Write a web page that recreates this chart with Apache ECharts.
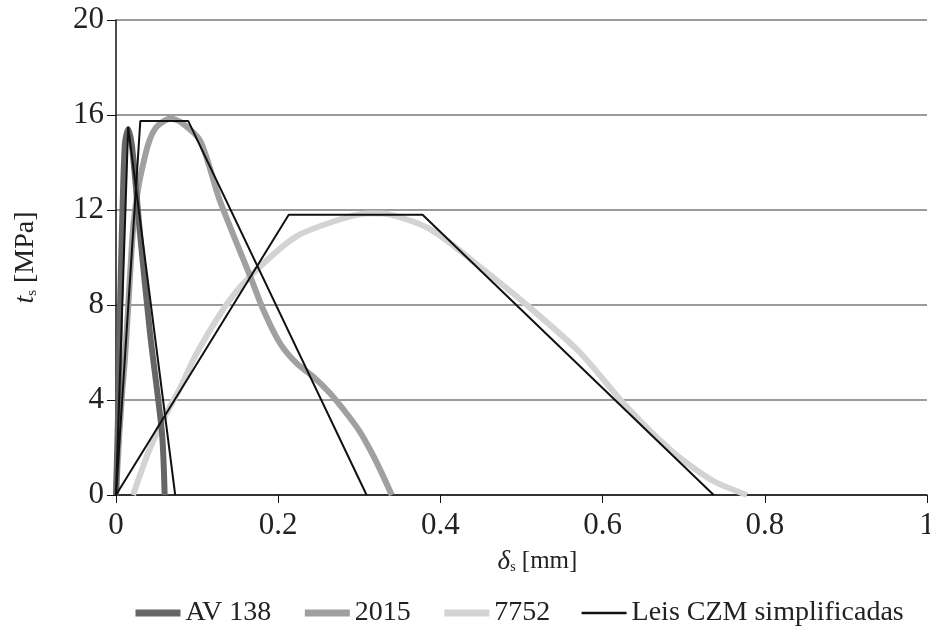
<!DOCTYPE html>
<html>
<head>
<meta charset="utf-8">
<script src="https://cdn.jsdelivr.net/npm/echarts@6/dist/echarts.min.js"></script>
<style>html,body{margin:0;padding:0;background:#fff;}#c{width:930px;height:632px;}</style>
</head>
<body>
<div id="c"></div>
<script>
// x tick labels / y tick labels
const xTicks = [0, 0.2, 0.4, 0.6, 0.8, 1];
const yTicks = [0, 4, 8, 12, 16, 20];

// Experimental curves [delta_s (mm), t_s (MPa)]
const av138 = [[0,0],[0.003,4],[0.005,8],[0.008,12],[0.011,14.8],[0.015,15.4],[0.02,14.6],[0.0296,11.0],[0.042,6.8],[0.0567,2.6],[0.060,0]];
const s2015 = [[0,0],[0.004,2.5],[0.008,4.5],[0.011,5.7],[0.015,7.9],[0.021,11.2],[0.026,12.6],[0.03,13.4],[0.04,14.8],[0.05,15.5],[0.067,15.85],[0.08,15.7],[0.104,14.9],[0.128,12.4],[0.1673,9.05],[0.1817,7.79],[0.2022,6.39],[0.2228,5.54],[0.2433,4.98],[0.2639,4.28],[0.285,3.4],[0.300,2.7],[0.315,1.8],[0.328,0.9],[0.340,0]];
const s7752 = [[0.021,0],[0.04,1.8],[0.06,3.3],[0.079,4.5],[0.1,6.0],[0.14,8.2],[0.174,9.5],[0.223,10.9],[0.276,11.6],[0.31,11.85],[0.326,11.85],[0.387,11.2],[0.449,9.6],[0.51,7.9],[0.572,6.0],[0.630,3.7],[0.687,1.8],[0.736,0.6],[0.778,0]];

// Simplified CZM laws
const czmAV138 = [[0,0],[0.015,15.5],[0.073,0]];
const czm2015 = [[0,0],[0.03,15.75],[0.089,15.75],[0.309,0]];
const czm7752 = [[0,0],[0.213,11.8],[0.378,11.8],[0.737,0]];

const FONT = 'Liberation Serif';
const chart = echarts.init(document.getElementById('c'));
const czmName = 'Leis CZM simplificadas';
function thick(name, data, color) {
  return {name, type:'line', data, symbol:'none', smooth:0.25, lineStyle:{color, width:6}, itemStyle:{color}, z:2};
}
function czm(data) {
  return {name:czmName, type:'line', data, symbol:'none', lineStyle:{color:'#111', width:2}, itemStyle:{color:'#111'}, z:3};
}
function nameRich(big, small) {
  return {
    i:{fontStyle:'italic', fontSize:big, fontFamily:FONT, color:'#222'},
    s:{fontSize:small, fontFamily:FONT, color:'#222', padding:[12,0,0,0]}
  };
}
chart.setOption({
  animation:false,
  backgroundColor:'#fff',
  textStyle:{fontFamily:FONT},
  grid:{left:116, right:3, top:20, bottom:137, containLabel:false, outerBoundsMode:'none'},
  legend:{
    bottom:0, left:127, width:803, itemWidth:45, itemHeight:10, itemGap:30,
    textStyle:{fontFamily:FONT, fontSize:28, color:'#222'},
    itemStyle:{opacity:0},
    data:[
      {name:'AV 138', lineStyle:{width:7, color:'#666'}, itemStyle:{opacity:0}},
      {name:'2015', lineStyle:{width:7, color:'#a0a0a0'}, itemStyle:{opacity:0}},
      {name:'7752', lineStyle:{width:7, color:'#d3d3d3'}, itemStyle:{opacity:0}},
      {name:czmName, lineStyle:{width:2.5, color:'#111'}, itemStyle:{opacity:0}}
    ]
  },
  xAxis:{
    type:'value', min:0, max:1, interval:0.2,
    name:'{i|δ}{s|s} [mm]', nameLocation:'middle', nameGap:53,
    nameTextStyle:{fontFamily:FONT, fontSize:25, color:'#222', padding:[0,0,0,32], rich:nameRich(27,14)},
    axisLine:{show:true, lineStyle:{color:'#111', width:1.5}},
    axisTick:{show:true, inside:false, length:8, lineStyle:{color:'#111'}},
    axisLabel:{fontFamily:FONT, fontSize:31, color:'#222', margin:15, formatter:v=>xTicks.includes(+v.toFixed(1))?String(+v.toFixed(1)):''},
    splitLine:{show:false}
  },
  yAxis:{
    type:'value', min:0, max:20, interval:4,
    name:'{i|t}{s|s} [MPa]', nameLocation:'middle', nameGap:76, nameRotate:90,
    nameTextStyle:{fontFamily:FONT, fontSize:28, color:'#222', rich:nameRich(28,15)},
    axisLine:{show:true, lineStyle:{color:'#111', width:1.5}},
    axisTick:{show:true, inside:false, length:9, lineStyle:{color:'#111'}},
    axisLabel:{fontFamily:FONT, fontSize:31, color:'#222', margin:12, formatter:v=>yTicks.includes(v)?String(v):''},
    splitLine:{show:true, lineStyle:{color:'#7a7a7a', width:1.5}}
  },
  series:[
    thick('7752', s7752, '#d3d3d3'),
    thick('2015', s2015, '#a0a0a0'),
    thick('AV 138', av138, '#666'),
    czm(czmAV138), czm(czm2015), czm(czm7752)
  ]
});
</script>
</body>
</html>
